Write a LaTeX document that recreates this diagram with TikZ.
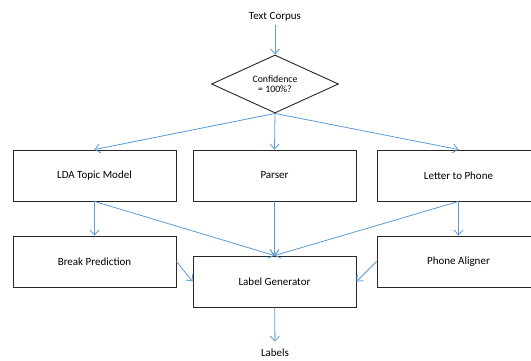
\documentclass[tikz,border=0pt]{standalone}
\usepackage{fontspec}
\setmainfont{Carlito}
\usetikzlibrary{shapes.geometric,arrows.meta}
\definecolor{flowblue}{RGB}{91,155,213}

\begin{document}
\begin{tikzpicture}[x=1pt,y=-1pt,font=\fontsize{11}{13}\selectfont,
  box/.style={draw=black!85,line width=0.9pt,minimum width=163pt,minimum height=51pt,inner sep=0pt},
  flow/.style={draw=flowblue,line width=0.8pt,-{Straight Barb[length=5pt,width=9pt]}}]
  \useasboundingbox (0,0) rectangle (531,360);

  % input and decision
  \node (corpus) at (275,17) {Text Corpus};
  \node[draw=black!85,line width=0.9pt,diamond,aspect=2.2,minimum width=127pt,minimum height=58pt,
        inner sep=0pt,align=center,font=\fontsize{9.8}{10.5}\selectfont] (conf) at (275,84)
        {Confidence\\= 100\%?};

  % first row
  \node[box] (lda)    at (94.5,175.5)  {LDA Topic Model};
  \node[box] (parser) at (274.5,175.5) {Parser};
  \node[box] (l2p)    at (458.5,175.5) {Letter to Phone};

  % second row
  \node[box] (brk)    at (94.5,261.5)  {Break Prediction};
  \node[box] (gen)    at (274.5,281.5) {Label Generator};
  \node[box] (align)  at (458.5,261.5) {Phone Aligner};

  \node (labels) at (275,353) {Labels};

  \draw[flow] (corpus) -- (conf.north);
  \foreach \n in {lda,parser,l2p}
    \draw[flow] (conf.south) -- (\n.north);
  \draw[flow] (lda.south) -- (brk.north);
  \draw[flow] (l2p.south) -- (align.north);
  \foreach \n in {lda,parser,l2p}
    \draw[flow] (\n.south) -- (gen.north);
  \draw[flow] (brk.east) -- (gen.west);
  \draw[flow] (align.west) -- (gen.east);
  \draw[flow,shorten >=4pt] (gen) -- (labels);
\end{tikzpicture}
\end{document}
